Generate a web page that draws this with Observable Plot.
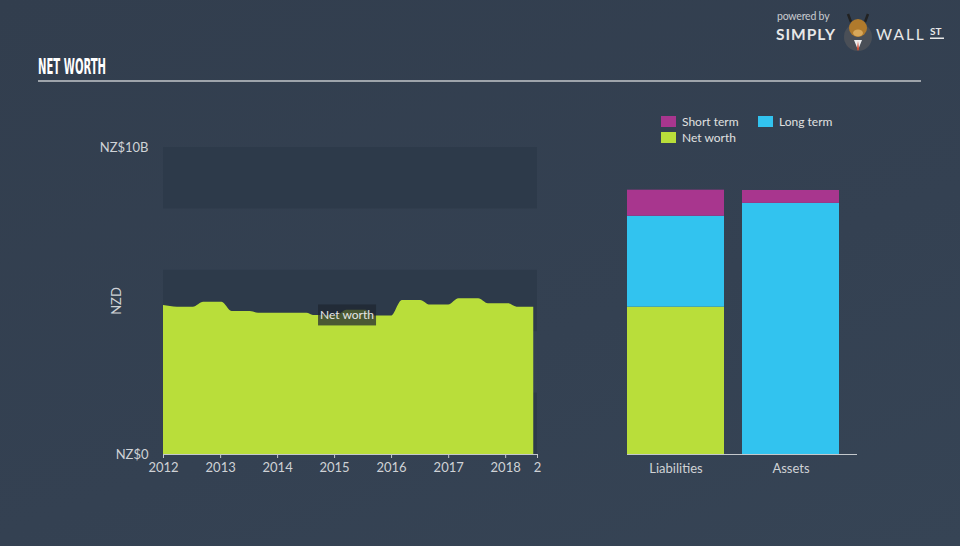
<!DOCTYPE html>
<html><head><meta charset="utf-8">
<script src="https://cdn.jsdelivr.net/npm/d3@7"></script>
<script src="https://cdn.jsdelivr.net/npm/@observablehq/plot@0.6"></script>
<style>
html,body{margin:0;padding:0;background:#344050;}
#root{position:relative;width:960px;height:546px;overflow:hidden;background:linear-gradient(160deg,#323e4e 0%,#344152 60%,#364455 100%);font-family:Lato,"Open Sans",sans-serif;}
#title{position:absolute;left:38px;top:57px;color:#fff;font-family:"Liberation Sans Narrow","DejaVu Sans Condensed",sans-serif;font-weight:bold;font-size:17px;line-height:17px;transform:scale(0.66,1.23);transform-origin:left top;white-space:nowrap;}
#rule{position:absolute;left:38px;top:80px;width:883px;height:2px;background:#9ea4ab;}
.chart{position:absolute;top:0;}
#legend{position:absolute;left:661px;top:114px;width:200px;font-size:12px;color:#e0e0e0;}
.item{position:absolute;white-space:nowrap;}
.sw{display:inline-block;width:15px;height:11px;vertical-align:-1px;margin-right:6px;}
#logo{position:absolute;left:770px;top:4px;}
</style></head><body>
<div id="root">
  <div id="title">NET WORTH</div>
  <div id="rule"></div>
  <div id="left" class="chart" style="left:0"></div>
  <div id="right" class="chart" style="left:580px"></div>
  <div id="legend"></div>
  <svg id="logo" width="185" height="48" viewBox="0 0 185 48">
    <text x="7" y="16" font-size="10.5" fill="#c9ccd0" font-family="Lato,sans-serif" letter-spacing="-0.2">powered by</text>
    <text x="6" y="36" font-size="15.5" font-weight="bold" fill="#e8e8e8" font-family="Lato,sans-serif" letter-spacing="1">SIMPLY</text>
    <circle cx="88" cy="33" r="14" fill="#4a4f57"/>
    <path d="M78 10 l3 8 M98 10 l-3 8" stroke="#222" stroke-width="2.5"/>
    <ellipse cx="88" cy="24" rx="9" ry="9" fill="#b07a2c"/>
    <ellipse cx="88" cy="29" rx="5" ry="3.5" fill="#d9a85a"/>
    <path d="M84 36 l4 10 l4 -10 z" fill="#eee"/>
    <path d="M88 37 l-1 8 l1 2 l1 -2 z" fill="#d0442a"/>
    <text x="106" y="36" font-size="15.5" fill="#e8e8e8" font-family="Lato,sans-serif" letter-spacing="2">WALL</text>
    <text x="160" y="31" font-size="10" font-weight="bold" fill="#e8e8e8" font-family="Lato,sans-serif">ST</text>
    <rect x="160" y="33.5" width="14" height="1.5" fill="#e8e8e8"/>
  </svg>
</div>
<script>
// ---- Net worth history (NZ$ billions) ----
const nwDates = ["2012-01-01","2012-03-30","2012-07-10","2012-09-15","2013-01-10","2013-03-15","2013-07-10","2013-09-01","2014-07-08","2014-08-18","2015-01-20","2015-03-20","2015-07-20","2015-09-05","2016-01-01","2016-03-10","2016-07-05","2016-09-05","2017-01-01","2017-03-08","2017-07-12","2017-09-12","2018-01-20","2018-03-15","2018-06-30"];
const nwValues = [4.85,4.80,4.80,4.96,4.96,4.66,4.66,4.60,4.60,4.53,4.53,4.70,4.70,4.51,4.51,5.02,5.02,4.87,4.87,5.07,5.07,4.91,4.91,4.80,4.80];
const xDomain = ["2012-01-01","2018-07-24"];
const xTickDates = ["2012-01-01","2013-01-01","2014-01-01","2015-01-01","2016-01-01","2017-01-01","2018-01-01","2018-07-24"];
const xTickLabels = ["2012","2013","2014","2015","2016","2017","2018","2"];
const yTicks = [0,10];
const yTickLabels = ["NZ$0","NZ$10B"];
const bandLo = [0,2,4,6,8];
const bandHi = [2,4,6,8,10];
const bandShade = [true,false,true,false,true];
const labelText = "Net worth";
const labelDate = "2015-03-25";
const labelValue = 4.53;

// ---- Balance sheet (NZ$ billions) ----
const sides = ["Liabilities","Assets"];
const parts = ["Net worth","Long term","Short term"];
const partColors = ["#b9de3a","#32c3ef","#a8368e"];
const liabilities = [4.80,2.96,0.85];
const assets = [0,8.18,0.42];
const legendOrder = ["Short term","Long term","Net worth"];

const nw = nwDates.map((d,i)=>({date:new Date(d), value:nwValues[i]}));
const bands = bandLo.map((lo,i)=>({lo, hi:bandHi[i], shade:bandShade[i]})).filter(b=>b.shade);
const tickDates = xTickDates.map(d=>new Date(d));
const tickMap = new Map(tickDates.map((d,i)=>[+d, xTickLabels[i]]));
const yMap = new Map(yTicks.map((v,i)=>[v, yTickLabels[i]]));
const font = "Lato, 'Open Sans', sans-serif";

const left = Plot.plot({
  width:580, height:546,
  marginLeft:163, marginRight:43, marginTop:147, marginBottom:92,
  style:{background:"transparent", color:"#cfd2d6", fontFamily:font, fontSize:"13px"},
  x:{type:"utc", domain:xDomain.map(d=>new Date(d))},
  y:{domain:[0,10]},
  marks:[
    Plot.rect(bands, {y1:"lo", y2:"hi", fill:"#2d3a4a"}),
    Plot.areaY(nw, {x:"date", y:"value", fill:"#b9de3a", curve:"monotone-x"}),
    Plot.ruleY([0], {stroke:"#c4c8cc"}),
    Plot.axisX({ticks:tickDates, tickFormat:d=>tickMap.get(+d), tickSize:4, tickPadding:4, stroke:"#c4c8cc", label:null}),
    Plot.axisY({ticks:yTicks, tickFormat:v=>yMap.get(v), tickSize:0, tickPadding:15, label:"NZD", labelAnchor:"center", labelOffset:52, labelArrow:"none"})
  ]
});
document.getElementById("left").appendChild(left);

// label box over the area, positioned through the plot's own scales
{
  const sx = left.scale("x"), sy = left.scale("y");
  const cx = sx.apply(new Date(labelDate)), cy = sy.apply(labelValue);
  const g = d3.select(left).append("g");
  g.append("rect").attr("x", cx-29).attr("y", cy-10.5).attr("width",58).attr("height",21)
    .attr("fill","#1e2630").attr("fill-opacity",0.72);
  g.append("text").attr("x", cx).attr("y", cy).attr("dy","0.35em").attr("text-anchor","middle")
    .attr("fill","#e6e6e6").attr("font-size",12).attr("font-family",font).text(labelText);
}

const balance = [];
parts.forEach((p,i)=>{
  balance.push({side:"Liabilities", part:p, value:liabilities[i]});
  balance.push({side:"Assets", part:p, value:assets[i]});
});

const right = Plot.plot({
  width:380, height:546,
  marginLeft:47, marginRight:103, marginTop:147, marginBottom:92,
  style:{background:"transparent", color:"#cfd2d6", fontFamily:font, fontSize:"13px"},
  x:{type:"band", domain:sides, paddingInner:0.16, paddingOuter:0.08, align:0},
  y:{domain:[0,10], axis:null},
  color:{domain:parts, range:partColors},
  marks:[
    Plot.barY(balance, {x:"side", y:"value", fill:"part", order:parts}),
    Plot.ruleY([0], {stroke:"#c4c8cc"}),
    Plot.axisX({tickSize:0, tickPadding:9, label:null})
  ]
});
document.getElementById("right").appendChild(right);

// legend
const leg = document.getElementById("legend");
const legPos = {"Short term":[0,0], "Long term":[97,0], "Net worth":[0,16]};
legendOrder.forEach(name=>{
  const d = document.createElement("div");
  d.className = "item";
  d.style.left = legPos[name][0]+"px";
  d.style.top = legPos[name][1]+"px";
  d.innerHTML = `<span class="sw" style="background:${partColors[parts.indexOf(name)]}"></span>${name}`;
  leg.appendChild(d);
});
</script>
</body></html>
